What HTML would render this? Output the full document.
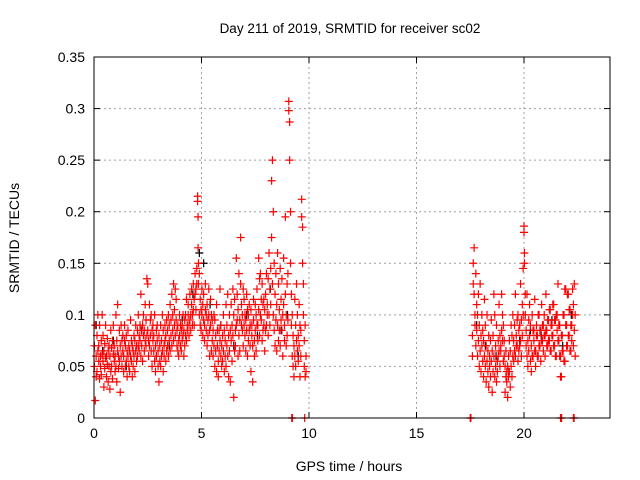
<!DOCTYPE html>
<html><head><meta charset="utf-8"><style>
html,body{margin:0;padding:0;background:#fff}
svg{display:block;font-family:"Liberation Sans",sans-serif}
</style></head><body>
<svg id="chart" width="640" height="480" viewBox="0 0 640 480">
<rect x="0" y="0" width="640" height="480" fill="#fff"/>
<text x="350" y="33" font-size="13.5" text-anchor="middle">Day 211 of 2019, SRMTID for receiver sc02</text>
<text x="349" y="471" font-size="14" text-anchor="middle">GPS time / hours</text>
<text transform="translate(19,238) rotate(-90)" font-size="14" text-anchor="middle">SRMTID / TECUs</text>
<g id="grid"></g>
<g id="ticks"></g>
<g id="black"></g>
<g id="red"></g>
<rect x="94" y="57" width="516" height="361" fill="none" stroke="#000" stroke-width="1"/>
</svg>
<script>
const xTicks=[0,5,10,15,20];
const yTicks=[0,0.05,0.1,0.15,0.2,0.25,0.3,0.35];
const yLabels=["0","0.05","0.1","0.15","0.2","0.25","0.3","0.35"];
// red readings: [hour, value A, value B]
const redMorning=[[0.02,0.07,0.05],[0.06,0.09,0.017],[0.1,0.04,0.06],[0.14,0.08,0.045],[0.18,0.065,0.1],[0.22,0.055,0.07],[0.26,0.038,0.09],[0.3,0.06,0.05],[0.34,0.075,0.042],[0.38,0.062,0.1],[0.42,0.055,0.08],[0.46,0.03,0.065],[0.5,0.048,0.072],[0.54,0.058,0.09],[0.58,0.04,0.06],[0.62,0.052,0.077],[0.66,0.035,0.065],[0.7,0.05,0.07],[0.74,0.028,0.06],[0.78,0.085,0.045],[0.82,0.068,0.05],[0.86,0.075,0.038],[0.9,0.062,0.09],[0.94,0.055,0.07],[0.98,0.045,0.06],[1.02,0.1,0.05],[1.06,0.075,0.035],[1.1,0.065,0.11],[1.14,0.048,0.06],[1.18,0.085,0.055],[1.22,0.07,0.025],[1.26,0.06,0.09],[1.3,0.075,0.05],[1.34,0.08,0.065],[1.38,0.045,0.06],[1.42,0.09,0.075],[1.46,0.05,0.07],[1.5,0.055,0.08],[1.54,0.065,0.04],[1.58,0.06,0.085],[1.62,0.07,0.05],[1.66,0.045,0.065],[1.7,0.095,0.06],[1.74,0.055,0.075],[1.78,0.04,0.07],[1.82,0.065,0.05],[1.86,0.08,0.06],[1.9,0.075,0.045],[1.94,0.09,0.065],[1.98,0.055,0.07],[2.02,0.085,0.06],[2.06,0.1,0.07],[2.1,0.08,0.065],[2.14,0.075,0.09],[2.18,0.06,0.12],[2.22,0.07,0.085],[2.26,0.09,0.055],[2.3,0.08,0.1],[2.34,0.065,0.085],[2.38,0.075,0.11],[2.42,0.07,0.095],[2.46,0.08,0.135],[2.5,0.13,0.085],[2.54,0.06,0.075],[2.58,0.11,0.07],[2.62,0.095,0.08],[2.66,0.065,0.1],[2.7,0.085,0.05],[2.74,0.075,0.09],[2.78,0.065,0.08],[2.82,0.055,0.1],[2.86,0.07,0.045],[2.9,0.085,0.06],[2.94,0.09,0.075],[2.98,0.05,0.065],[3.02,0.08,0.035],[3.06,0.07,0.055],[3.1,0.09,0.05],[3.14,0.06,0.075],[3.18,0.1,0.065],[3.22,0.045,0.085],[3.26,0.07,0.06],[3.3,0.09,0.075],[3.34,0.055,0.08],[3.38,0.065,0.095],[3.42,0.07,0.085],[3.46,0.06,0.1],[3.5,0.075,0.09],[3.54,0.065,0.11],[3.58,0.08,0.095],[3.62,0.07,0.12],[3.66,0.085,0.1],[3.7,0.075,0.13],[3.74,0.09,0.105],[3.78,0.08,0.125],[3.82,0.095,0.115],[3.86,0.085,0.07],[3.9,0.065,0.09],[3.94,0.075,0.06],[3.98,0.1,0.08],[4.02,0.07,0.09],[4.06,0.065,0.085],[4.1,0.09,0.075],[4.14,0.08,0.1],[4.18,0.06,0.085],[4.22,0.095,0.07],[4.26,0.1,0.08],[4.3,0.075,0.115],[4.34,0.085,0.09],[4.38,0.11,0.1],[4.42,0.09,0.08],[4.46,0.12,0.095],[4.5,0.1,0.085],[4.54,0.125,0.11],[4.58,0.09,0.1],[4.62,0.13,0.105],[4.66,0.115,0.09],[4.7,0.14,0.12],[4.74,0.125,0.105],[4.78,0.145,0.13],[4.82,0.215,0.21],[4.84,0.195,0.165],[4.86,0.15,0.13],[4.9,0.14,0.1],[4.94,0.115,0.09],[4.98,0.105,0.085],[5.02,0.125,0.1],[5.06,0.11,0.08],[5.1,0.095,0.12],[5.14,0.09,0.075],[5.18,0.105,0.13],[5.22,0.085,0.1],[5.26,0.07,0.11],[5.3,0.095,0.08],[5.34,0.1,0.125],[5.38,0.085,0.06],[5.42,0.115,0.09],[5.46,0.065,0.1],[5.5,0.075,0.095],[5.54,0.06,0.085],[5.58,0.1,0.07],[5.62,0.05,0.095],[5.66,0.065,0.08],[5.7,0.045,0.11],[5.74,0.07,0.085],[5.78,0.055,0.04],[5.82,0.085,0.065],[5.86,0.125,0.075],[5.9,0.06,0.09],[5.94,0.05,0.07],[5.98,0.055,0.08],[6.02,0.065,0.1],[6.06,0.045,0.085],[6.1,0.06,0.075],[6.14,0.11,0.05],[6.18,0.09,0.07],[6.22,0.12,0.06],[6.26,0.08,0.04],[6.3,0.1,0.065],[6.34,0.035,0.085],[6.38,0.11,0.075],[6.42,0.09,0.055],[6.46,0.125,0.08],[6.5,0.02,0.1],[6.54,0.065,0.115],[6.58,0.085,0.07],[6.62,0.155,0.09],[6.66,0.095,0.12],[6.7,0.06,0.105],[6.74,0.14,0.08],[6.78,0.095,0.065],[6.82,0.13,0.175],[6.86,0.09,0.11],[6.9,0.1,0.085],[6.94,0.07,0.125],[6.98,0.115,0.09],[7.02,0.08,0.1],[7.06,0.065,0.095],[7.1,0.12,0.085],[7.14,0.06,0.105],[7.18,0.1,0.075],[7.22,0.085,0.11],[7.26,0.07,0.09],[7.3,0.105,0.045],[7.34,0.09,0.08],[7.38,0.035,0.07],[7.42,0.095,0.115],[7.46,0.075,0.06],[7.5,0.11,0.085],[7.54,0.065,0.1],[7.58,0.125,0.09],[7.62,0.09,0.075],[7.66,0.105,0.155],[7.7,0.08,0.135],[7.74,0.14,0.1],[7.78,0.095,0.115],[7.82,0.13,0.075],[7.86,0.085,0.11],[7.9,0.115,0.09],[7.94,0.105,0.065],[7.98,0.12,0.085],[8.02,0.09,0.14],[8.06,0.11,0.1],[8.1,0.135,0.08],[8.14,0.1,0.16],[8.18,0.125,0.09],[8.22,0.145,0.11],[8.26,0.23,0.175],[8.3,0.25,0.13],[8.34,0.2,0.1],[8.38,0.15,0.085],[8.42,0.12,0.07],[8.46,0.095,0.14],[8.5,0.11,0.065],[8.54,0.16,0.09],[8.58,0.075,0.13],[8.62,0.105,0.085],[8.66,0.145,0.07],[8.7,0.115,0.095],[8.74,0.085,0.135],[8.78,0.1,0.06],[8.82,0.155,0.11],[8.86,0.09,0.075],[8.9,0.12,0.195],[8.94,0.07,0.1],[8.98,0.13,0.08],[9.02,0.095,0.14],[9.06,0.307,0.298],[9.1,0.287,0.25],[9.14,0.2,0.15],[9.18,0.12,0.09],[9.22,0.06,0.1],[9.26,0.05,0.08],[9.3,0.04,0.07],[9.34,0.115,0.06],[9.38,0.09,0.05],[9.42,0.13,0.075],[9.46,0.065,0.1],[9.5,0.08,0.055],[9.54,0.11,0.07],[9.58,0.09,0.04],[9.62,0.06,0.085],[9.66,0.212,0.195],[9.7,0.185,0.15],[9.74,0.1,0.13],[9.78,0.075,0.05],[9.82,0.09,0.04],[9.86,0.06,0.045]];
const redEvening=[[17.6,0.06,0.08],[17.64,0.15,0.13],[17.68,0.165,0.12],[17.72,0.1,0.09],[17.76,0.14,0.07],[17.8,0.11,0.085],[17.84,0.06,0.1],[17.88,0.075,0.12],[17.92,0.05,0.09],[17.96,0.065,0.13],[18.0,0.08,0.045],[18.04,0.1,0.07],[18.08,0.055,0.085],[18.12,0.04,0.075],[18.16,0.06,0.115],[18.2,0.05,0.09],[18.24,0.035,0.07],[18.28,0.055,0.1],[18.32,0.065,0.045],[18.36,0.08,0.03],[18.4,0.06,0.05],[18.44,0.075,0.04],[18.48,0.095,0.055],[18.52,0.025,0.065],[18.56,0.045,0.08],[18.6,0.12,0.06],[18.64,0.04,0.1],[18.68,0.05,0.07],[18.72,0.035,0.09],[18.76,0.055,0.045],[18.8,0.075,0.06],[18.84,0.11,0.065],[18.88,0.05,0.08],[18.92,0.065,0.07],[18.96,0.12,0.085],[19.0,0.1,0.075],[19.04,0.09,0.055],[19.08,0.075,0.06],[19.12,0.05,0.025],[19.16,0.04,0.065],[19.2,0.035,0.045],[19.24,0.02,0.05],[19.28,0.06,0.04],[19.32,0.045,0.075],[19.36,0.065,0.03],[19.4,0.05,0.09],[19.44,0.08,0.04],[19.48,0.06,0.1],[19.52,0.075,0.055],[19.56,0.09,0.065],[19.6,0.06,0.12],[19.64,0.08,0.07],[19.68,0.07,0.095],[19.72,0.1,0.055],[19.76,0.085,0.065],[19.8,0.07,0.09],[19.84,0.13,0.075],[19.88,0.095,0.06],[19.92,0.11,0.08],[19.96,0.1,0.145],[20.0,0.186,0.18],[20.02,0.16,0.15],[20.06,0.12,0.1],[20.1,0.07,0.085],[20.14,0.06,0.12],[20.18,0.075,0.05],[20.22,0.095,0.065],[20.26,0.08,0.11],[20.3,0.055,0.09],[20.34,0.07,0.045],[20.38,0.1,0.06],[20.42,0.06,0.085],[20.46,0.085,0.075],[20.5,0.115,0.065],[20.54,0.065,0.05],[20.58,0.09,0.08],[20.62,0.08,0.06],[20.66,0.06,0.1],[20.7,0.1,0.07],[20.74,0.07,0.085],[20.78,0.085,0.055],[20.82,0.11,0.075],[20.86,0.075,0.09],[20.9,0.09,0.065],[20.94,0.1,0.08],[20.98,0.08,0.06],[21.02,0.12,0.085],[21.06,0.085,0.07],[21.1,0.07,0.095],[21.14,0.095,0.075],[21.18,0.075,0.105],[21.22,0.105,0.065],[21.26,0.065,0.09],[21.3,0.09,0.08],[21.34,0.08,0.11],[21.38,0.11,0.07],[21.42,0.07,0.095],[21.46,0.095,0.06],[21.5,0.06,0.1],[21.54,0.1,0.085],[21.58,0.13,0.075],[21.62,0.075,0.09],[21.66,0.09,0.06],[21.7,0.06,0.04],[21.74,0.04,0.08],[21.78,0.08,0.065],[21.82,0.065,0.1],[21.86,0.1,0.055],[21.9,0.055,0.125],[21.94,0.125,0.09],[21.98,0.09,0.07],[22.02,0.07,0.12],[22.06,0.12,0.08],[22.1,0.08,0.105],[22.14,0.105,0.065],[22.18,0.065,0.09],[22.22,0.09,0.075],[22.26,0.125,0.1],[22.3,0.11,0.07],[22.34,0.13,0.085],[22.38,0.1,0.06]];
const redZeroHours=[9.2,9.23,9.8,17.5,17.53,21.7,21.75,22.3,22.33];
const blackT=[0.1,0.4,0.9,1.5,2.2,2.9,3.5,4.1,4.6,4.9,5.1,5.4,5.9,6.5,7.1,7.6,8.2,8.7,9.0,9.5,17.8,18.2,18.7,19.3,19.8,20.3,20.8,21.3,21.8,22.2];
const blackV=[0.09,0.065,0.075,0.05,0.085,0.06,0.07,0.095,0.12,0.16,0.15,0.11,0.09,0.07,0.1,0.08,0.125,0.085,0.1,0.06,0.09,0.07,0.06,0.045,0.075,0.085,0.08,0.095,0.07,0.1];
const NS="http://www.w3.org/2000/svg";
const X0=94,X1=610,Y0=418,Y1=57;
const sx=t=>X0+t*(X1-X0)/24;
const sy=v=>Y0-v*(Y0-Y1)/0.35;
function mk(tag,attrs,parent){const e=document.createElementNS(NS,tag);for(const k in attrs)e.setAttribute(k,attrs[k]);parent.appendChild(e);return e;}
const grid=document.getElementById('grid'),ticks=document.getElementById('ticks');
xTicks.forEach(t=>{
  const x=sx(t);
  if(t>0){const g=mk('line',{x1:x,x2:x,y1:Y1,y2:Y0,stroke:'#a0a0a0','stroke-dasharray':'2,3'},grid);
  
  }
  mk('line',{x1:x,x2:x,y1:Y0,y2:Y0-6,stroke:'#000'},ticks);
  mk('line',{x1:x,x2:x,y1:Y1,y2:Y1+6,stroke:'#000'},ticks);
  const l=mk('text',{x:x,y:Y0+20,'font-size':14,'text-anchor':'middle'},ticks);
  l.textContent=String(t);
  
  
});
yTicks.forEach((v,i)=>{
  const y=sy(v);
  if(v>0&&v<0.35){const g=mk('line',{x1:X0,x2:X1,y1:y,y2:y,stroke:'#a0a0a0','stroke-dasharray':'2,3'},grid);
  
  }
  mk('line',{x1:X0,x2:X0+6,y1:y,y2:y,stroke:'#000'},ticks);
  mk('line',{x1:X1,x2:X1-6,y1:y,y2:y,stroke:'#000'},ticks);
  const l=mk('text',{x:X0-9,y:y+5,'font-size':14,'text-anchor':'end'},ticks);
  l.textContent=yLabels[i];
  
  
});
function cross(t,v,g,color,name){
  const x=sx(t),y=sy(v);
  const p=mk('path',{d:`M${x-4},${y}h8M${x},${y-4}v8`,stroke:color,'stroke-width':1.2,fill:'none'},g);
  
  
}
const blackG=document.getElementById('black'),redG=document.getElementById('red');
blackT.forEach((t,i)=>cross(t,blackV[i],blackG,'#000','black-point'));
[redMorning,redEvening].forEach(seg=>seg.forEach(r=>{cross(r[0],r[1],redG,'#f00','red-point');cross(r[0],r[2],redG,'#f00','red-point');}));
redZeroHours.forEach(t=>cross(t,0,redG,'#f00','red-zero-point'));
</script>
</body></html>
